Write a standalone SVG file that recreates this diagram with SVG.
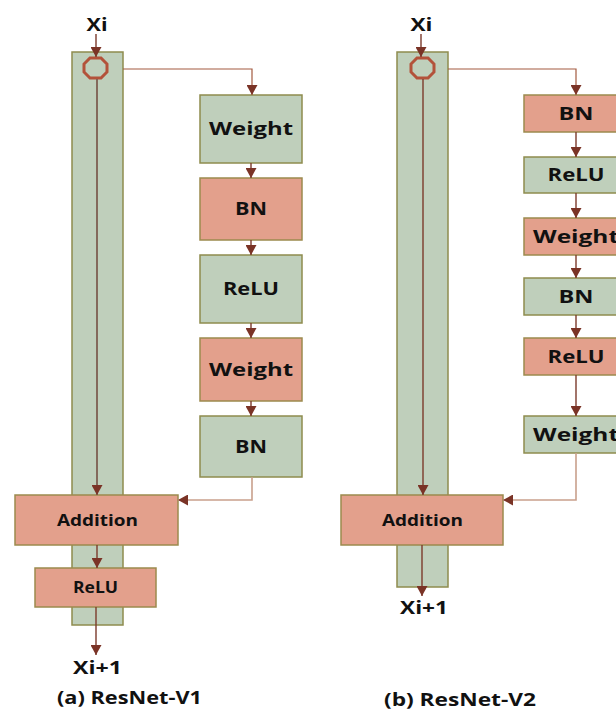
<svg xmlns="http://www.w3.org/2000/svg" width="616" height="711" viewBox="0 0 616 711">
<style>
.g{fill:#bfcfbb;stroke:#8e8c4e;stroke-width:1.5}
.r{fill:#e3a08c;stroke:#9c8a4e;stroke-width:1.5}
.t{font-family:"Open Sans","Liberation Sans",sans-serif;font-weight:700;fill:#111;text-anchor:middle}
.oct{fill:none;stroke:#b3523a;stroke-width:3}
.c{fill:none;stroke:#7b3a2c;stroke-width:1.4}
.cs{fill:none;stroke:#7d5e52;stroke-width:1.8}
.ch{fill:none;stroke:#a35a40;stroke-width:1.2}
.cl{fill:none;stroke:#c9a08c;stroke-width:1.6}
</style>
<defs>
<marker id="a" markerUnits="userSpaceOnUse" markerWidth="12" markerHeight="11" refX="10" refY="5.5" orient="auto">
<path d="M0,0 L10,5.5 L0,11 z" fill="#7a3326"/>
</marker>
</defs>
<rect width="616" height="711" fill="#fff"/>

<!-- Left panel -->
<g id="barA"><rect class="g" x="72" y="52" width="51" height="573"/></g>
<g id="octA"><polygon class="oct" points="90,58 101,58 107,64 107,72 101,78 90,78 84,72 84,64"/></g>
<g id="xiA"><text class="t" x="97" y="31" font-size="17" textLength="21" lengthAdjust="spacingAndGlyphs">Xi</text></g>
<g id="weightA1"><rect class="g" x="200" y="95" width="102" height="68"/><text class="t" x="251" y="135" font-size="18" textLength="84" lengthAdjust="spacingAndGlyphs">Weight</text></g>
<g id="bnA1"><rect class="r" x="200" y="178" width="102" height="62"/><text class="t" x="251" y="215" font-size="18" textLength="32" lengthAdjust="spacingAndGlyphs">BN</text></g>
<g id="reluA1"><rect class="g" x="200" y="255" width="102" height="68"/><text class="t" x="251" y="295" font-size="18" textLength="56" lengthAdjust="spacingAndGlyphs">ReLU</text></g>
<g id="weightA2"><rect class="r" x="200" y="338" width="102" height="63"/><text class="t" x="251" y="375.5" font-size="18" textLength="84" lengthAdjust="spacingAndGlyphs">Weight</text></g>
<g id="bnA2"><rect class="g" x="200" y="416" width="102" height="61"/><text class="t" x="251" y="452.5" font-size="18" textLength="32" lengthAdjust="spacingAndGlyphs">BN</text></g>
<g id="addA"><rect class="r" x="15" y="495" width="163" height="50"/><text class="t" x="97.5" y="525.5" font-size="16" textLength="81" lengthAdjust="spacingAndGlyphs">Addition</text></g>
<g id="reluA2"><rect class="r" x="35" y="568" width="121" height="39"/><text class="t" x="95.5" y="593" font-size="16" textLength="45" lengthAdjust="spacingAndGlyphs">ReLU</text></g>
<g id="outA"><text class="t" x="97.5" y="674" font-size="17" textLength="49" lengthAdjust="spacingAndGlyphs">Xi+1</text></g>
<g id="capA"><text class="t" x="129.5" y="704" font-size="17" textLength="145" lengthAdjust="spacingAndGlyphs">(a) ResNet-V1</text></g>

<!-- Right panel -->
<g id="barB"><rect class="g" x="397" y="52" width="51" height="535"/></g>
<g id="octB"><polygon class="oct" points="417,58 428,58 434,64 434,72 428,78 417,78 411,72 411,64"/></g>
<g id="xiB"><text class="t" x="421.5" y="31" font-size="17" textLength="22" lengthAdjust="spacingAndGlyphs">Xi</text></g>
<g id="bnB1"><rect class="r" x="524" y="95" width="104" height="37"/><text class="t" x="576" y="119.5" font-size="18" textLength="35" lengthAdjust="spacingAndGlyphs">BN</text></g>
<g id="reluB1"><rect class="g" x="524" y="157" width="104" height="36"/><text class="t" x="576" y="181" font-size="18" textLength="57" lengthAdjust="spacingAndGlyphs">ReLU</text></g>
<g id="weightB1"><rect class="r" x="524" y="218" width="104" height="37"/><text class="t" x="576" y="242.5" font-size="18" textLength="86" lengthAdjust="spacingAndGlyphs">Weight</text></g>
<g id="bnB2"><rect class="g" x="524" y="278" width="104" height="37"/><text class="t" x="576" y="302.5" font-size="18" textLength="35" lengthAdjust="spacingAndGlyphs">BN</text></g>
<g id="reluB2"><rect class="r" x="524" y="338" width="104" height="37"/><text class="t" x="576" y="362.5" font-size="18" textLength="57" lengthAdjust="spacingAndGlyphs">ReLU</text></g>
<g id="weightB2"><rect class="g" x="524" y="416" width="104" height="37"/><text class="t" x="576" y="440.5" font-size="18" textLength="86" lengthAdjust="spacingAndGlyphs">Weight</text></g>
<g id="addB"><rect class="r" x="341" y="495" width="162" height="50"/><text class="t" x="422.5" y="525.5" font-size="16" textLength="81" lengthAdjust="spacingAndGlyphs">Addition</text></g>
<g id="outB"><text class="t" x="424" y="614" font-size="17" textLength="48" lengthAdjust="spacingAndGlyphs">Xi+1</text></g>
<g id="capB"><text class="t" x="460" y="706" font-size="17" textLength="152" lengthAdjust="spacingAndGlyphs">(b) ResNet-V2</text></g>

<g id="connectors">
<!-- left -->
<path class="c" d="M96,34 V57" marker-end="url(#a)"/>
<path class="cs" d="M97,79 V495" marker-end="url(#a)"/>
<path class="ch" d="M123,69 H252 V95" marker-end="url(#a)"/>
<path class="c" d="M251,163 V178" marker-end="url(#a)"/>
<path class="c" d="M251,240 V255" marker-end="url(#a)"/>
<path class="c" d="M251,323 V338" marker-end="url(#a)"/>
<path class="c" d="M251,401 V416" marker-end="url(#a)"/>
<path class="cl" d="M252,477 V500 H178" marker-end="url(#a)"/>
<path class="c" d="M97,545 V568" marker-end="url(#a)"/>
<path class="c" d="M96,607 V655" marker-end="url(#a)"/>
<!-- right -->
<path class="c" d="M421,34 V57" marker-end="url(#a)"/>
<path class="c" d="M423,79 V495" marker-end="url(#a)"/>
<path class="ch" d="M448,69 H576 V95" marker-end="url(#a)"/>
<path class="c" d="M576,132 V157" marker-end="url(#a)"/>
<path class="c" d="M576,193 V218" marker-end="url(#a)"/>
<path class="c" d="M576,255 V278" marker-end="url(#a)"/>
<path class="c" d="M576,315 V338" marker-end="url(#a)"/>
<path class="c" d="M576,375 V416" marker-end="url(#a)"/>
<path class="cl" d="M576,453 V500 H503" marker-end="url(#a)"/>
<path class="c" d="M422,545 V596" marker-end="url(#a)"/>
</g>
</svg>
